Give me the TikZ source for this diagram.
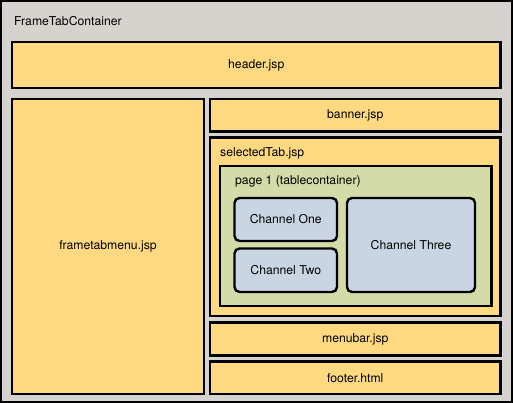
\documentclass[tikz,border=0pt]{standalone}
\usepackage{fontspec}
\setmainfont{TeX Gyre Heros}
\definecolor{bggray}{HTML}{D6D3CF}
\definecolor{ylw}{HTML}{FED982}
\definecolor{grn}{HTML}{D3DBA8}
\definecolor{blu}{HTML}{CAD5E3}
\begin{document}
\begin{tikzpicture}[x=1pt,y=-1pt,
  box/.style={draw=black,line width=2.4pt,fill=ylw},
  pagebox/.style={draw=black,line width=2.4pt,fill=grn},
  chan/.style={draw=black,line width=2.4pt,fill=blu,rounded corners=5pt},
  lbl/.style={font=\fontsize{12.2}{14}\selectfont,inner sep=0pt},
  lbll/.style={lbl,anchor=west}]
\useasboundingbox (0,0) rectangle (513,403);
\draw[fill=bggray,draw=black,line width=2pt] (1,1) rectangle (512,402);
\node[lbll] (ftc) at (14,21) {FrameTabContainer};
\draw[box] (12,42) rectangle (500.5,88);
\node[lbl] (hdr) at (256.25,65) {header.jsp};
\draw[box] (12,99) rectangle (204,394);
\node[lbl] (ftm) at (108,246.5) {frametabmenu.jsp};
\draw[box] (210,99) rectangle (500.5,131.5);
\node[lbl] (ban) at (355.25,115.25) {banner.jsp};
\draw[box] (210,137.5) rectangle (500.5,316);
\node[lbll] (sel) at (220,153) {selectedTab.jsp};
\draw[pagebox] (220,166) rectangle (491.5,306);
\node[lbll] (pg) at (235,181.5) {page 1 (tablecontainer)};
\draw[chan] (234.5,198) rectangle (337,241);
\node[lbl] (c1) at (285.75,219.5) {Channel One};
\draw[chan] (234.5,248.5) rectangle (337,292);
\node[lbl] (c2) at (285.75,270.25) {Channel Two};
\draw[chan] (347,198) rectangle (475,292);
\node[lbl] (c3) at (411,245) {Channel Three};
\draw[box] (210,322.5) rectangle (500.5,355.5);
\node[lbl] (mb) at (355.25,339) {menubar.jsp};
\draw[box] (210,361.5) rectangle (500.5,394);
\node[lbl] (ft) at (355.25,377.75) {footer.html};
\end{tikzpicture}
\end{document}
